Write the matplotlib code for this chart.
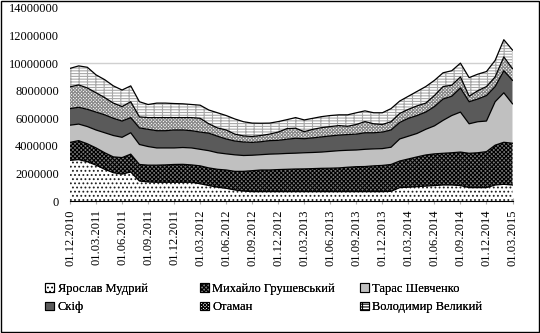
import matplotlib
matplotlib.use("Agg")
import matplotlib.pyplot as plt
from matplotlib.patches import Patch, Rectangle
import numpy as np
import pandas as pd

plt.rcParams['font.family'] = ['Liberation Serif', 'DejaVu Serif']
plt.rcParams['hatch.linewidth'] = 0.8

# monthly dates 01.12.2010 .. 01.03.2015
dates = pd.date_range('2010-12-01', '2015-03-01', freq='MS')

# values in thousands, bottom to top of the stack
yaroslav = [2950, 3000, 2850, 2600, 2300, 2050, 1950, 2100, 1450, 1380, 1360, 1360, 1360,
            1360, 1360, 1250, 1120, 1000, 920, 800, 720, 680, 680, 680, 680, 680, 680,
            680, 680, 680, 680, 680, 680, 680, 680, 680, 680, 700, 970, 1000, 1040, 1080,
            1120, 1160, 1160, 1120, 970, 970, 970, 1160, 1210, 1160]
mykhailo = [1300, 1380, 1300, 1250, 1200, 1150, 1200, 1300, 1200, 1220, 1240, 1260, 1290,
            1300, 1260, 1300, 1280, 1300, 1330, 1350, 1430, 1520, 1570, 1570, 1600, 1620,
            1640, 1650, 1670, 1690, 1700, 1720, 1770, 1810, 1820, 1870, 1900, 1950, 1930,
            2050, 2160, 2260, 2300, 2300, 2340, 2430, 2490, 2530, 2610, 2890, 3050, 3030]
taras = [1250, 1200, 1250, 1300, 1450, 1550, 1470, 1550, 1450, 1350, 1250, 1230, 1200,
         1220, 1230, 1200, 1250, 1200, 1170, 1200, 1150, 1120, 1110, 1150, 1140, 1150,
         1150, 1170, 1170, 1180, 1220, 1250, 1230, 1210, 1250, 1230, 1220, 1250, 1600,
         1650, 1700, 1860, 2030, 2390, 2700, 2900, 2140, 2250, 2220, 3150, 3590, 2860]
skif = [1200, 1220, 1250, 1300, 1300, 1250, 1180, 1100, 1200, 1250, 1250, 1250, 1300,
        1270, 1250, 1250, 1270, 1200, 1080, 1000, 980, 930, 940, 980, 980, 1030, 1080,
        1020, 1060, 1100, 1120, 1130, 1140, 1150, 1200, 1170, 1200, 1250, 1200, 1300,
        1300, 1250, 1400, 1550, 1400, 1750, 1600, 1650, 1850, 1100, 1600, 1700]
otaman = [1580, 1620, 1550, 1400, 1250, 1100, 1050, 1150, 800, 850, 950, 950, 900, 900,
          950, 1000, 680, 600, 650, 500, 440, 430, 450, 470, 600, 770, 730, 510, 620, 670,
          680, 690, 600, 700, 810, 650, 550, 600, 650, 650, 700, 650, 800, 900, 800, 800,
          400, 600, 650, 700, 1000, 850]
volodymyr = [1340, 1380, 1500, 1300, 1300, 1250, 1200, 1150, 1100, 950, 1050, 1050, 1020,
             1000, 950, 950, 1000, 1100, 1050, 1100, 1030, 970, 890, 800, 760, 650, 770,
             850, 800, 800, 800, 780, 830, 850, 780, 800, 850, 950, 900, 950, 1050, 1200,
             1100, 1000, 1050, 1000, 1350, 1200, 1090, 1200, 1250, 1350]

names = ['Ярослав Мудрий', 'Михайло Грушевський', 'Тарас Шевченко',
         'Скіф', 'Отаман', 'Володимир Великий']
series = [yaroslav, mykhailo, taras, skif, otaman, volodymyr]

# fill, hatch, hatch colour
styles = [
    ('white', '....', '#202020'),
    ('#7a7a7a', 'xxxxxxxx', 'black'),
    ('#c0c0c0', '', '#c0c0c0'),
    ('#5a5a5a', '', '#5a5a5a'),
    ('white', 'xxxxxxxxxx', '#8a8a8a'),
    ('white', '++----', '#a8a8a8'),
]

x = np.arange(len(dates))
fig = plt.figure(figsize=(5.4, 3.33), dpi=100)
ax = fig.add_axes([70 / 540, 1 - 201 / 333, 442.5 / 540, 193 / 333])

ax.axhline(10000000, color='#d0d0d0', lw=1, zorder=0)

bottom = np.zeros(len(x))
for vals, (fc, hatch, hc) in zip(series, styles):
    top = bottom + np.array(vals) * 1000.0
    ax.fill_between(x, bottom, top, facecolor=fc, hatch=hatch, edgecolor=hc,
                    linewidth=0, zorder=2)
    ax.plot(x, top, color='black', lw=0.9, zorder=3)
    bottom = top

ax.set_xlim(0, len(x) - 1)
ax.set_ylim(0, 14000000)
ax.set_yticks(np.arange(0, 14000001, 2000000))
ax.set_yticklabels([str(v) for v in range(0, 14000001, 2000000)], fontsize=9)
ax.set_xticks(x[::3])
ax.set_xticklabels([d.strftime('%d.%m.%Y') for d in dates[::3]], rotation=90, fontsize=9)
ax.tick_params(axis='y', length=0, pad=8)
ax.tick_params(axis='x', length=4, direction='inout', color='#b0b0b0', pad=4)
for s in ['left', 'top', 'right']:
    ax.spines[s].set_visible(False)
ax.spines['bottom'].set_color('black')
ax.spines['bottom'].set_zorder(4)

# legend, one per column to match the spacing
handles = [Patch(facecolor=fc, hatch=h, edgecolor='black', lw=0.8) for fc, h, hc in styles]
col_x = [40 / 540, 195 / 540, 355 / 540]
for c in range(3):
    idx = [c, c + 3]
    leg = fig.legend([handles[i] for i in idx], [names[i] for i in idx],
                     loc='upper left', bbox_to_anchor=(col_x[c], 1 - 278 / 333),
                     frameon=False, fontsize=9, handlelength=0.7, handleheight=0.7,
                     handletextpad=0.3, labelspacing=0.5, borderaxespad=0)
    fig.add_artist(leg)

fig.add_artist(Rectangle((0.001, 0.002), 0.997, 0.996, transform=fig.transFigure,
                         fill=False, edgecolor='black', lw=1))

fig.savefig('out.png', dpi=100)
